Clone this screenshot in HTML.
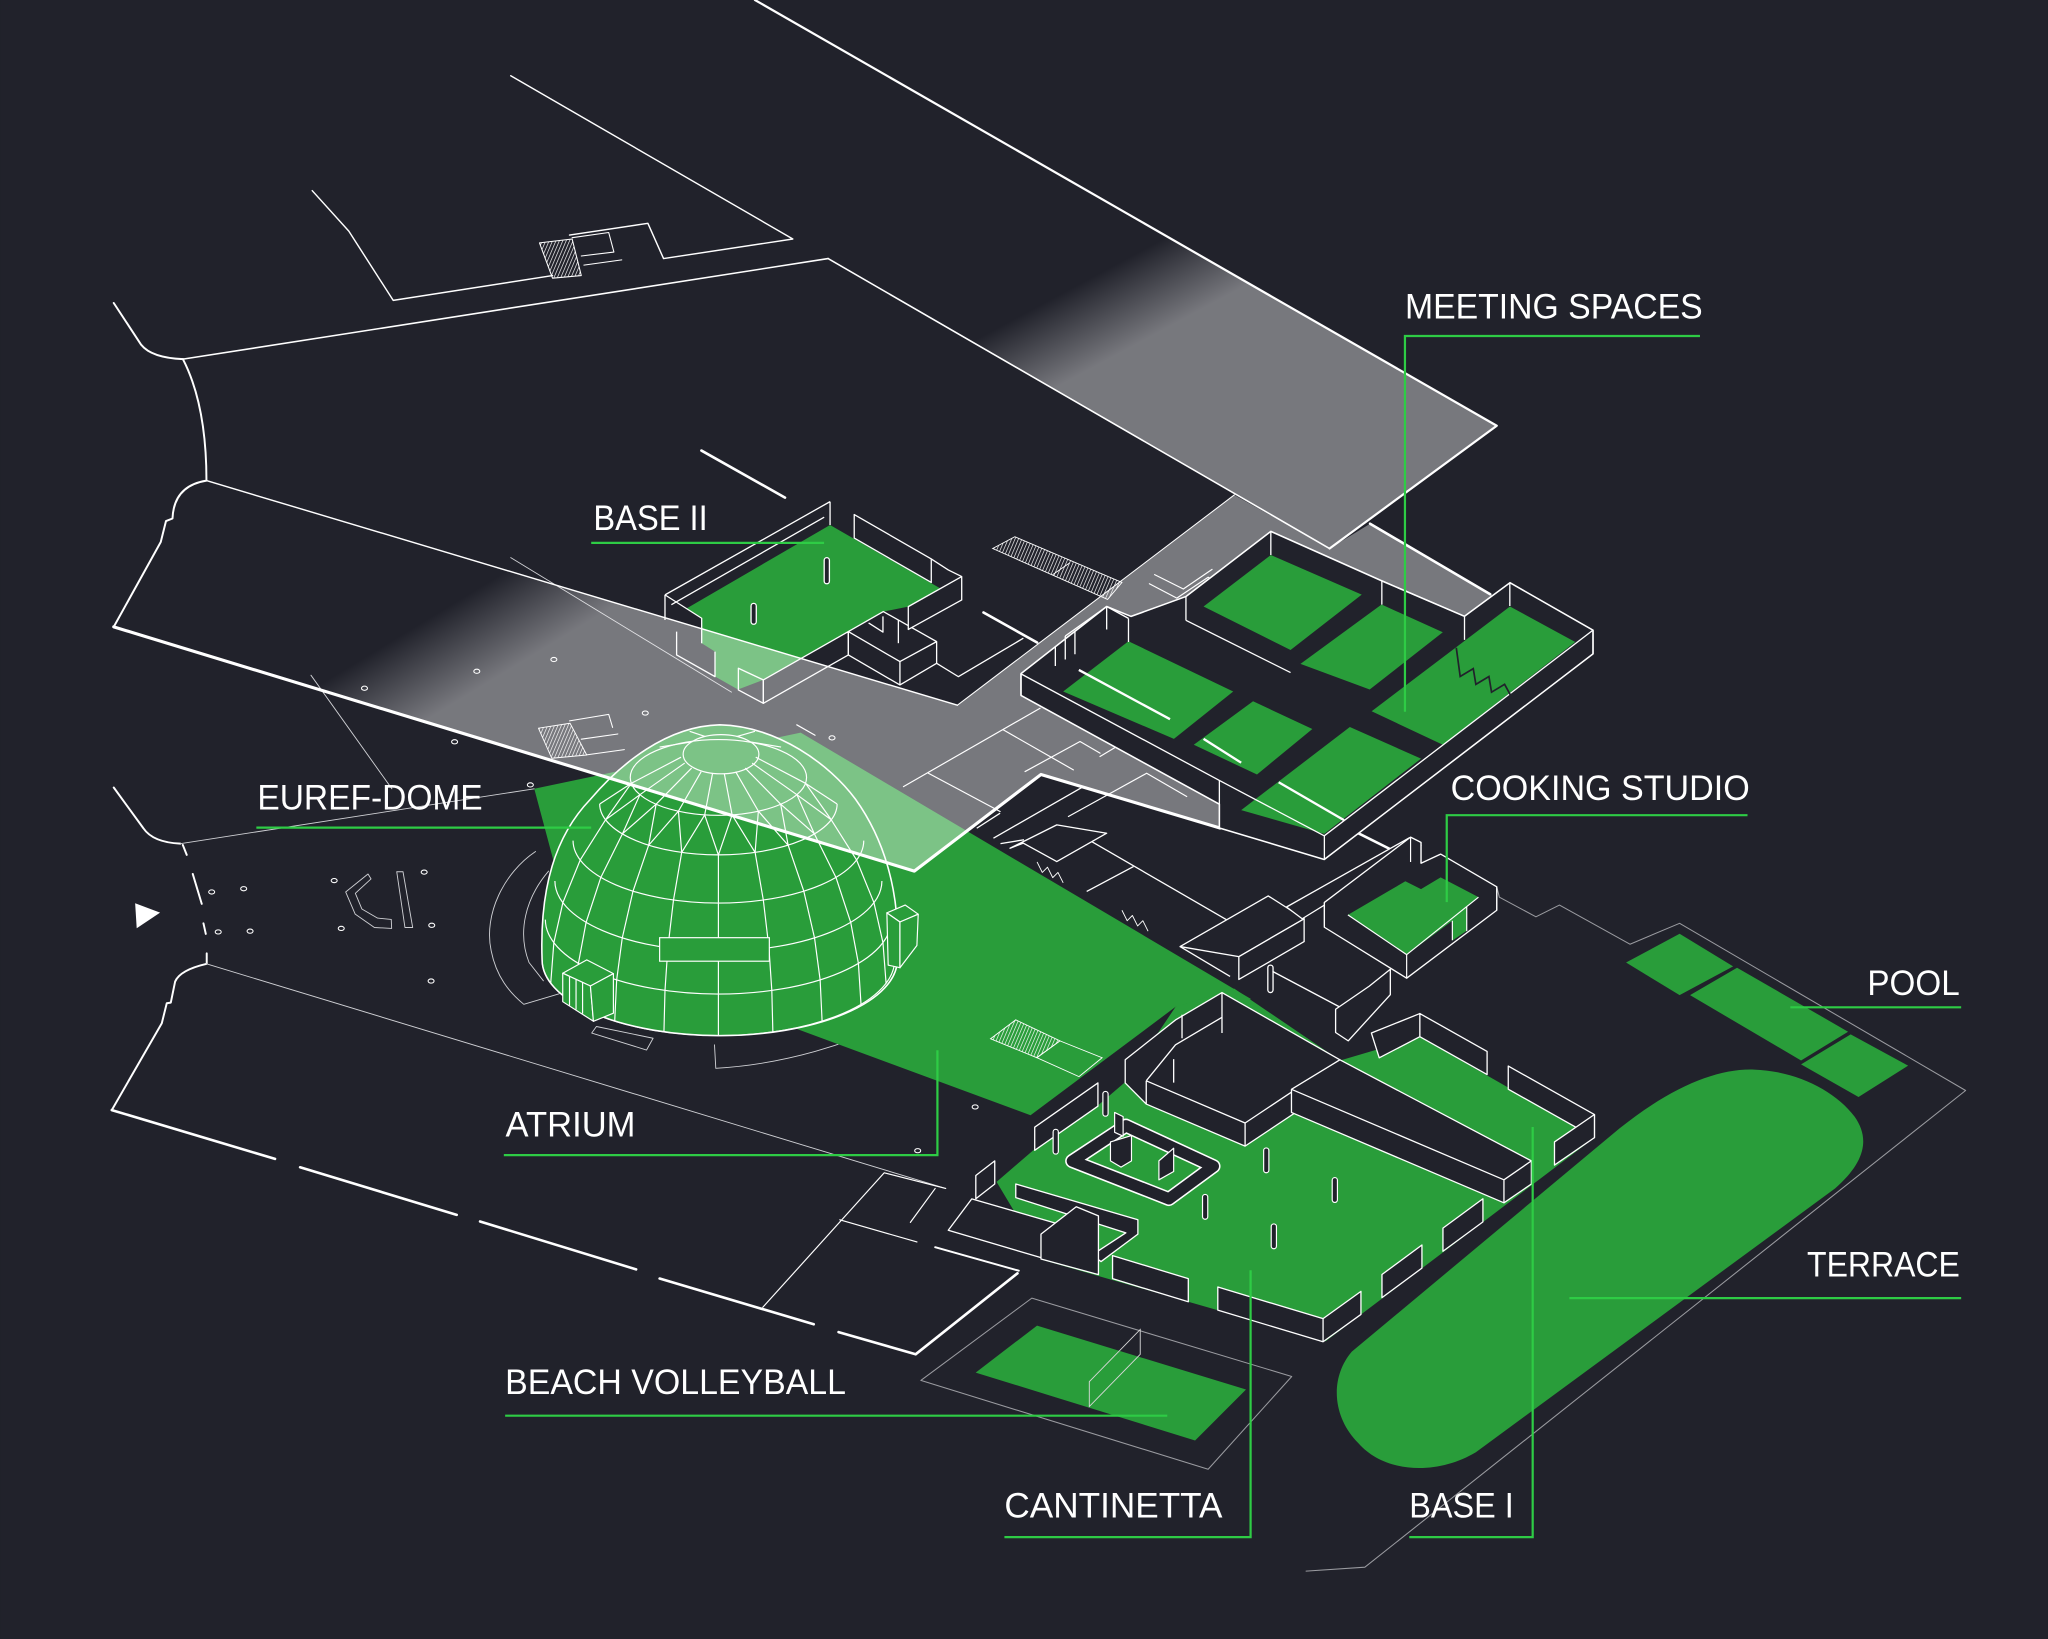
<!DOCTYPE html>
<html><head><meta charset="utf-8"><title>EUREF Campus</title>
<style>html,body{margin:0;padding:0;background:#21222b;overflow:hidden}svg{display:block}</style></head>
<body>
<svg xmlns="http://www.w3.org/2000/svg" width="2048" height="1639" viewBox="0 0 1568 1255">
<defs>
<linearGradient id="gU" gradientUnits="userSpaceOnUse" x1="885" y1="186" x2="914" y2="240">
<stop offset="0" stop-color="#fff" stop-opacity="0"/><stop offset="1" stop-color="#fff" stop-opacity="0.388"/></linearGradient>
<linearGradient id="gL" gradientUnits="userSpaceOnUse" x1="390" y1="436" x2="424" y2="492">
<stop offset="0" stop-color="#fff" stop-opacity="0"/><stop offset="1" stop-color="#fff" stop-opacity="0.388"/></linearGradient>
<pattern id="h1" width="2.4" height="10" patternUnits="userSpaceOnUse" patternTransform="rotate(23)"><line x1="0.6" y1="0" x2="0.6" y2="10" stroke="#fff" stroke-width="0.5"/></pattern>
</defs>
<rect width="1568" height="1255" fill="#21222b"/>

<!-- ground site lines -->
<g fill="none" stroke="#fff" stroke-width="1.1" stroke-linejoin="round" stroke-linecap="round">
<polyline points="239,146 267,177 301,230 423,211"/>
<polyline points="436,180 496,171 508,198 607,183 391,58"/>
<polygon points="413,186 438,183 445,211 423,213" fill="url(#h1)" stroke-width="0.8"/>
<polyline points="438,182 466,178 470,193 445,196" stroke-width="0.8"/>
<line x1="447" y1="203" x2="476" y2="199" stroke-width="0.8"/>
<path d="M87,232 L108,264 Q116,274 140,275" stroke-width="1.5"/>
<line x1="140" y1="275" x2="634" y2="198" stroke-width="1.2"/>
<path d="M140,275 Q158,310 158,368 Q133,372 132,397 L127,399 L123,415 L87,480" stroke-width="1.5"/>
<path d="M87,603 L109.7,634.2 Q117,645 138,646" stroke-width="1.5"/>
<line x1="138" y1="646" x2="409" y2="604" stroke-width="0.7" stroke="#cfd0d4"/>
<path d="M139.9,647 L142.9,654.6 M147.5,669.2 L154.4,692.1 M155.7,707 L157.5,715.1 M158.2,730 L158.2,737.6" stroke-width="1.5"/>
<path d="M158.2,738 Q137.8,742.7 134,751.6 L130.7,767.7 L127.6,768.2 L123.8,783.5 L85.5,850" stroke-width="1.5"/>
<path d="M85.5,850 L210.5,887.4 M229.7,893.8 L349.6,930.2 M367.5,935.3 L487,972 M505,979 L623,1014 M642,1020 L701,1037 L779,975" stroke-width="2"/>
<line x1="158" y1="738" x2="724" y2="910" stroke-width="0.7" stroke="#cfd0d4"/>
<polyline points="584,1001 677,898 724,910" stroke-width="0.9"/>
<line x1="643" y1="934" x2="702" y2="951" stroke-width="0.9"/>
<line x1="697" y1="936" x2="716" y2="910" stroke-width="0.9"/>
<line x1="716" y1="955" x2="780" y2="973" stroke-width="1.5"/>
<line x1="238" y1="517" x2="300" y2="604" stroke-width="0.7" stroke="#cfd0d4"/>
<line x1="391" y1="427" x2="560" y2="530" stroke-width="0.7" stroke="#cfd0d4"/>
<!-- C shapes -->
<polygon points="281.7,669.2 264.6,683 271.9,700 286.6,710.2 299.8,710.9 299.5,704 289,703 277,696 272,684 284,673" stroke-width="0.7" stroke="#cfd0d4"/>
<polygon points="303.7,667.5 308.5,667.5 315.9,710.2 310,710.2" stroke-width="0.7" stroke="#cfd0d4"/>
<!-- dome surroundings -->
<path d="M410,652 C386,668 370,700 376,728 C380,748 390,760 401,769 L428,761" stroke-width="0.7" stroke="#cfd0d4"/>
<path d="M420,667 C402,688 396,714 405,737 L416,751" stroke-width="0.7" stroke="#cfd0d4"/>
<polygon points="453,791 456.6,786 500,795 495,804" stroke-width="0.7" stroke="#cfd0d4"/>
<path d="M547,800 L548,818 C600,815 650,800 694,778 L684,773 L708,749 L699,745" stroke-width="0.7" stroke="#cfd0d4"/>
<path d="M700,667 L712,684 L720,714.6 L704,714.6" stroke-width="0.7" stroke="#cfd0d4"/>
<!-- volleyball outer / terrace outline -->
<polygon points="705,1057 790,994 989,1054 925,1125" stroke-width="0.8" stroke="#9a9ba0"/>
<polyline points="1146,679 1148,687 1176,702 1194,693 1248,723 1286,707 1505,835 1045,1200 1000,1203" stroke-width="0.8" stroke="#9a9ba0"/>
</g>
<polygon points="103.4,691.6 122.5,698.8 104.6,710.8" fill="#fff"/>
<g fill="none" stroke="#fff" stroke-width="0.8">
<ellipse cx="279" cy="527" rx="2.3" ry="1.6"/><ellipse cx="365" cy="514" rx="2.3" ry="1.6"/><ellipse cx="424" cy="505" rx="2.3" ry="1.6"/>
<ellipse cx="494" cy="546" rx="2.3" ry="1.6"/><ellipse cx="637" cy="565" rx="2.3" ry="1.6"/><ellipse cx="348" cy="568" rx="2.3" ry="1.6"/>
<ellipse cx="406" cy="601" rx="2.3" ry="1.6"/><ellipse cx="162" cy="683" rx="2.3" ry="1.6"/><ellipse cx="186.5" cy="680.5" rx="2.3" ry="1.6"/>
<ellipse cx="167" cy="713.6" rx="2.3" ry="1.6"/><ellipse cx="191.4" cy="713" rx="2.3" ry="1.6"/><ellipse cx="255.8" cy="674.3" rx="2.3" ry="1.6"/>
<ellipse cx="261.2" cy="710.9" rx="2.3" ry="1.6"/><ellipse cx="324.7" cy="667.8" rx="2.3" ry="1.6"/><ellipse cx="330.5" cy="708.5" rx="2.3" ry="1.6"/>
<ellipse cx="330" cy="751.2" rx="2.3" ry="1.6"/><ellipse cx="746.6" cy="847.6" rx="2.3" ry="1.6"/><ellipse cx="702.6" cy="881.1" rx="2.3" ry="1.6"/>
<ellipse cx="784.6" cy="818.9" rx="2.3" ry="1.6"/><ellipse cx="831" cy="783" rx="2.3" ry="1.6"/><ellipse cx="863" cy="758" rx="2.3" ry="1.6"/>
</g>

<!-- green floors -->
<g fill="#299d3a">
<polygon points="409,604 613,561 958,765 900,771 789,854 613,789 440,720"/>
<polygon points="525.7,465.8 635.5,402 719.7,450.4 695.4,464.5 676.3,468.3 649.5,483.6 584.4,520.6 565,528 547.4,518 547.4,499 537.2,492.5 537.2,473.4"/>
<polygon points="763,905 792,880 840,847 861,829 900,771 945,757 1026,812 1087,794 1206,862 1221,871 1015,1027 799,965"/>
<polygon points="747,1051 794,1015 954,1064 915,1103"/>
<polygon points="1245,737 1286,715 1327,740 1286,762"/>
<polygon points="1294,762 1330,741 1415,790 1379,812"/>
<polygon points="1379,815 1417,792 1461,816 1423,840"/>
<path d="M1035,1035 L1240,864 C1280,832 1315,818 1343,819 C1375,820 1405,835 1420,855 C1432,872 1428,890 1405,910 L1130,1112 C1100,1130 1060,1128 1040,1105 C1020,1085 1018,1055 1035,1035 Z"/>
</g>
<!-- volleyball net -->
<path d="M873,1018 L873,1037 L834,1077 L834,1058 Z" fill="none" stroke="#d8d8d8" stroke-width="0.7"/>
<!-- atrium hatch stairs -->
<polygon points="758.4,795.4 777.7,780.9 811.5,797 793.8,809.9" fill="url(#h1)" stroke="#fff" stroke-width="0.7"/>
<polygon points="811.5,797 843.8,809.9 826.1,824.4 793.8,809.9" fill="none" stroke="#fff" stroke-width="0.7"/>

<!-- dome -->
<path d="M415,735 C413,680 425,640 452,612 C475,585 510,556 551,555 C595,556 635,585 655,612 C675,640 690,680 687,735 A136,58 0 0 1 415,735 Z" fill="#299d3a" stroke="#fff" stroke-width="1.2"/>
<g fill="none" stroke="#fff" stroke-width="0.9" stroke-linejoin="round">
<path d="M415,735 A135,58 0 0 0 685,735"/>
<path d="M417.5,704.2 A132.5,57 0 0 0 682.5,704.2"/>
<path d="M424.8,674.6 A125.2,53.8 0 0 0 675.2,674.6"/>
<path d="M438.7,643.7 A111.3,47.8 0 0 0 661.3,643.7"/>
<path d="M459.1,615.6 A90.9,39 0 0 0 640.9,615.6"/>
<ellipse cx="550" cy="595.3" rx="67.5" ry="29"/>
<ellipse cx="552" cy="577.5" rx="29" ry="15"/>
<polyline points="550,654.6 550,691.5 550,728.4 550,761.2 550,793"/>
<polyline points="578.1,652.7 584.4,689.2 588.7,725.8 590.9,758.4 591.7,790.2"/>
<polyline points="521.9,652.7 515.6,689.2 511.3,725.8 509.1,758.4 508.3,790.2"/>
<polyline points="603.4,647.2 615.4,682.4 623.6,718.1 627.9,750.3 629.4,781.9"/>
<polyline points="496.6,647.2 484.6,682.4 476.4,718.1 472.1,750.3 470.6,781.9"/>
<polyline points="623.5,638.5 640,671.8 651.3,706.2 657.2,737.7 659.2,769.1"/>
<polyline points="476.5,638.5 460,671.8 448.7,706.2 442.8,737.7 440.8,769.1"/>
<polyline points="636.4,627.7 655.8,658.5 669.1,691.2 676,721.8 678.4,752.9"/>
<polyline points="463.6,627.7 444.2,658.5 430.9,691.2 424,721.8 421.6,752.9"/>
<polyline points="459.1,615.6 483.3,599.8 463.6,627.7 489.9,608.5 476.5,638.5 502.3,615.8 496.6,647.2 519.4,621.1 521.9,652.7 539.5,624 550,654.6 560.5,624 578.1,652.7 580.6,621.1 603.4,647.2 597.7,615.8 623.5,638.5 610.1,608.5 636.4,627.7 616.7,599.8 640.9,615.6"/>
<path d="M545.5,592.3 L539.5,624 M554.5,592.3 L560.5,624 M536.8,590.9 L519.4,621.1 M563.2,590.9 L580.6,621.1 M529.5,588.1 L502.3,615.8 M570.5,588.1 L597.7,615.8 M524.2,584.3 L489.9,608.5 M575.8,584.3 L610.1,608.5 M521.4,579.8 L483.3,599.8 M578.6,579.8 L616.7,599.8 M530,568 L505,572 M574,568 L598,572 M540,564 L528,560 M564,564 L578,560"/>
</g>
<rect x="505" y="718" width="84" height="18" fill="#299d3a" stroke="#fff" stroke-width="0.9"/>
<g fill="#299d3a" stroke="#fff" stroke-width="0.9" stroke-linejoin="round">
<polygon points="430.8,745.2 449.2,735 469.6,745.5 452,755"/>
<polygon points="430.8,745.2 452,755 454.3,782 430.8,767"/>
<polygon points="452,755 469.6,745.5 469.6,775.8 454.3,782"/>
<path d="M436,748 L436,770 M441,750 L441,773 M446,752 L446,776" fill="none"/>
<polygon points="679,699 693,693 703,700 689,706"/>
<polygon points="679,699 689,706 689,741 680,739"/>
<polygon points="689,706 703,700 702,724 689,741"/>
</g>

<!-- ground buildings -->
<g fill="#21222b" stroke="#fff" stroke-width="1" stroke-linejoin="round">
<!-- base II -->
<polygon points="654,394 713,428 713,446 654,412"/>
<polygon points="584.4,520.6 649.5,483.6 649.5,501.5 584.4,538.5"/>
<polygon points="649.5,483.6 676.3,468.3 717.1,491.3 717.1,507.9 689,524.5 649.5,501.5"/>
<polyline points="649.5,483.6 689,506.6 717.1,491.3" fill="none"/>
<line x1="689" y1="506.6" x2="689" y2="524.5"/>
<polyline points="665,477 676,484 676,472" fill="none"/>
<polygon points="695.4,464.5 736.3,441.5 736.3,459.4 695.4,482"/>
<polyline points="713,428 726,436.4 736.3,441.5" fill="none"/>
<line x1="687.8" y1="474.7" x2="687.8" y2="492.5"/>
<polyline points="717.1,507.9 733.7,518.1 783.5,488.7" fill="none"/>
<polygon points="565.3,511.7 584.4,520.6 584.4,538.5 565.3,528.3" fill="none"/>
<path d="M509.1,455.5 L635.5,384.1 M514,463 L631,396 M509.1,455.5 L509.1,474.7 M509.1,455.5 L537.2,473.4 L537.2,492.5 M518,483.6 L518,501.5 L547.4,518.1 L547.4,499 M635.5,384.1 L635.5,402" fill="none"/>
<rect x="631" y="427" width="4" height="20" rx="2"/>
<rect x="575" y="462" width="4" height="16" rx="2"/>
<!-- middle structures -->
<polygon points="773.3,649.5 809.1,631.6 847.3,638 809.1,659.7 783.5,645.6" fill="none"/>
<path d="M835.8,644.4 L939.2,704.3 M832,682.6 L867.8,663.5 M747.8,634.2 L765.7,622.7 M760.6,641.8 L829.5,602.3 M766,646 L784,643" fill="none"/>
<polyline points="794,660 798,668 802,664 806,672 810,668 814,676" fill="none" stroke-width="0.7"/>
<polyline points="859,697 863,705 867,701 871,709 875,705 879,713" fill="none" stroke-width="0.7"/>
<polygon points="903.5,724.8 971,686 998.5,703.5 948.5,732.5" fill="none"/>
<line x1="903.5" y1="724.8" x2="941.8" y2="747.7"/>
<polygon points="948.5,732.5 998.5,703.5 998.5,721 948.5,750"/>
<polygon points="985,694.5 1079,641.5 1088,647.5 997,703.5"/>
<rect x="970.7" y="739" width="4" height="21" rx="2"/>
<line x1="974.3" y1="743.8" x2="1029" y2="772.8"/>
<polygon points="1022.6,772.8 1048.4,755.1 1064.5,742.2 1064.5,761.6 1032.3,797 1022.6,790.6"/>
<!-- cooking studio -->
<polygon points="1014,691 1080,641 1088,645 1088,661 1103,654 1146,679 1146,697 1077,749 1014,710"/>
<!-- base I -->
<polygon points="792.2,863.1 840.6,829.2 840.6,847 792.2,880.8"/>
<polygon points="747.1,900.1 761.6,888.9 761.6,906.6 747.1,917.9"/>
<polygon points="861.5,811.5 900,781 935.6,760 1025.9,811.5 1025.9,829.2 953.3,877.6 877.6,845.4 861.5,829.2"/>
<path d="M877.6,827.6 L953.3,859.9 L1025.9,811.5 M953.3,859.9 L953.3,877.6 M877.6,827.6 L877.6,845.4 M877.6,827.6 L900,800 L935.6,779 M898.6,811 L898.6,829 M935.6,760 L935.6,791 M905,777 L905,795" fill="none"/>
<polygon points="988.8,834.1 1025.9,811.5 1172.5,888.9 1172.5,906.6 1151.5,921 988.8,851.8"/>
<path d="M988.8,834.1 L1151.5,903.4 L1172.5,888.9 M1151.5,903.4 L1151.5,921" fill="none"/>
<polygon points="1087.1,776.1 1138.6,805.1 1138.6,822.8 1087.1,793.8"/>
<polygon points="1050,791 1087.1,776.1 1087.1,793.8 1056,810"/>
<polygon points="1154.8,816.3 1220.8,853.4 1220.8,871.1 1154.8,834"/>
<polygon points="1190.2,874.4 1220.8,853.4 1220.8,871.1 1190.2,892.1"/>
<polygon points="1104.8,940.4 1135.4,917.9 1135.4,935.6 1104.8,958.1"/>
<polygon points="1058.1,975.9 1088.7,953.3 1088.7,971 1058.1,993.6"/>
<polygon points="932.4,985.5 1013,1009.7 1042,988.8 1042,1006.5 1013,1027.4 932.4,1003.2"/>
<line x1="1013" y1="1009.7" x2="1013" y2="1027.4"/>
<polygon points="851.8,961.4 909.8,979.1 909.8,996.8 851.8,979.1"/>
<!-- cantinetta -->
<polygon points="726,942 744,918 820,940 797,963"/>
<polygon points="777.7,906.6 871.2,934 871.2,945 843,966 836,961 862,944 777.7,917"/>
<polygon points="797,945 824,924 841,931 841,976 797,964"/>
</g>
<!-- ring -->
<path d="M821,889 L862,862 L929,893 L895,918 Z" fill="none" stroke="#fff" stroke-width="11" stroke-linejoin="round"/>
<path d="M821,889 L862,862 L929,893 L895,918 Z" fill="none" stroke="#21222b" stroke-width="8.6" stroke-linejoin="round"/>
<g fill="#21222b" stroke="#fff" stroke-width="0.9" stroke-linejoin="round">
<polygon points="850.2,874.4 866.3,869.5 866.3,888.9 858.3,893.7 850.2,888.9"/>
<polygon points="887.3,888.9 898.6,879.2 898.6,897 887.3,903.4"/>
<polygon points="853.4,851.8 859.9,855 859.9,870 853.4,867"/>
<rect x="967.5" y="879" width="4" height="19" rx="2"/>
<rect x="1020" y="901.7" width="4" height="19" rx="2"/>
<rect x="920.7" y="914.6" width="4" height="19" rx="2"/>
<rect x="973.3" y="937.2" width="4" height="19" rx="2"/>
<rect x="844.4" y="835.7" width="4" height="19" rx="2"/>
<rect x="806.3" y="864.7" width="4" height="19" rx="2"/>
</g>
<!-- cooking green -->
<polygon points="1032,700.5 1076,674.8 1088,680.8 1103,671.8 1132,686.9 1123,694.5 1123,712.7 1112,720.2 1112,705 1077.4,730.8" fill="#299d3a"/>
<path d="M1014,691 L1014,710 M1146,679 L1146,697 M1077,731 L1077,749 M1088,645 L1088,661 M1123,694.5 L1123,713 M1112,705 L1112,720 M1080,641 L1080,660 M1032,700.5 L1077,731 L1132,687" fill="none" stroke="#fff" stroke-width="0.9"/>
<line x1="1038" y1="637" x2="1064" y2="650" stroke="#fff" stroke-width="2"/>

<!-- dark stairs -->
<polygon points="760,420 777,411 859,446 848,459" fill="url(#h1)" stroke="#fff" stroke-width="0.7"/>
<line x1="806" y1="440" x2="819" y2="431" stroke="#fff" stroke-width="0.7"/>

<!-- translucent planes -->
<polygon points="578,0 1146,326 1018,420 634,198 291,0" fill="url(#gU)"/>
<path d="M158,368 L733,540 L945,379 L1018,420 L1049,401 L1141,455 L1220,500 L1014,658 L934,634 L797,593 L700,667 L87,480 L123,415 L127,399 L132,397 Q133,372 158,368 Z" fill="url(#gL)"/>

<!-- plane edges and lines on planes -->
<g fill="none" stroke="#fff" stroke-linejoin="round" stroke-linecap="round">
<path d="M578,0 L1146,326 L1018,420" stroke-width="1.7"/>
<line x1="634" y1="198" x2="1018" y2="420" stroke-width="1.2"/>
<line x1="158" y1="368" x2="733" y2="540" stroke-width="1.1"/>
<line x1="733" y1="540" x2="945" y2="379" stroke-width="0.8"/>
<line x1="1049" y1="401" x2="1141" y2="455" stroke-width="2"/>
<path d="M87,480 L700,667 L797,593 L934,634" stroke-width="2.4"/>
<line x1="537" y1="345" x2="601" y2="381" stroke-width="2"/>
<line x1="753" y1="469" x2="794" y2="492" stroke-width="2"/>
<path d="M691.7,602.3 L796.3,542.3 M710.8,592.1 L765.7,621.4 M768.2,558.9 L821.8,589.5 M784.8,590.8 L826.9,567.8 L842.2,576.7 M842.2,579.3 L861.4,567.8 M818,625.2 L877.9,592.1 L908.6,609.9 M610,555 L624,563" stroke-width="0.9"/>
<path d="M880,447 L901,458 M884,440 L906,451 M901,458 L925,442 M906,451 L928,436 M925,442 L936,448" stroke-width="0.9"/>
<polygon points="412.2,557.6 436.4,553.8 449.2,578.1 422.4,580.6" fill="url(#h1)" stroke-width="0.7"/>
<path d="M436,552 L466,547 L469,557 M445,566 L473,562 M449,578 L478,574" stroke-width="0.8"/>
</g>

<!-- meeting spaces building -->
<polygon points="781.7,515.8 847.3,464.4 866,472 907.9,456.8 973,406.9 1057.8,444.7 1121.3,471.9 1156.1,446.2 1219.7,482.5 1219.7,500.7 1013.9,658.1 933.6,634 933.6,615.8 781.7,532.5" fill="#21222b" stroke="#fff" stroke-width="1.2" stroke-linejoin="round"/>
<g fill="#299d3a">
<polygon points="921.5,464.4 973,425 1042.6,455.3 988.1,497.7"/>
<polygon points="995.7,508.3 1057.8,462.9 1104.7,484.1 1048.7,528"/>
<polygon points="1050.2,544.6 1156.1,464.4 1206.1,491.6 1104.7,570.3"/>
<polygon points="814,529.5 864,491 944.2,529.5 898.8,565.8"/>
<polygon points="914,570.3 959.4,537 1004.8,558.2 962.4,593"/>
<polygon points="950.3,620.3 1033.5,556.7 1088,580.9 1013.9,638.5"/>
</g>
<g fill="none" stroke="#fff" stroke-width="1" stroke-linejoin="round">
<path d="M973,407 L973,425 M1058,445 L1058,463 M1156,446 L1156,464 M1014,640 L1014,658 M908,457 L908,475 M781.7,516 L781.7,532.5 M933.6,597.6 L933.6,615.8 M1219.7,482.5 L1219.7,500.7 M815.6,487 L815.6,505 M847.3,464.4 L847.3,482 M864,473.5 L864,491.6 M823,483 L823,501 M808,495 L808,510"/>
<path d="M1219.7,482.5 L1013.9,640 M781.7,516 L933.6,597.6 L1013.9,640 M908,475 L988.1,515 M1121.3,471.9 L1121.3,490 M1057.8,444.7 L1121.3,471.9 M815.6,487 L847.3,464.4 L864,473.5"/>
<path d="M826,513 L895.8,550.7 M921.5,565.8 L950.3,584 M979,599 L1029,628" stroke-width="1.8"/>
</g>
<polyline points="1115,496 1118,518 1128,512 1130,524 1140,518 1142,530 1152,524 1158,535" fill="none" stroke="#21222b" stroke-width="1.3"/>

<!-- leaders -->
<g fill="none" stroke="#2ecc45" stroke-width="1.7">
<path d="M1075.7,545 L1075.7,257.3 L1301.6,257.3"/>
<path d="M452.6,415.7 L630.9,415.7"/>
<path d="M196.2,633.7 L452.6,633.7"/>
<path d="M1107.7,690.8 L1107.7,624.2 L1338,624.2"/>
<path d="M1370.8,771.3 L1501.6,771.3"/>
<path d="M1201.6,994 L1501.6,994"/>
<path d="M385.7,884.5 L717.7,884.5 L717.7,804.2"/>
<path d="M386.7,1084 L893.7,1084"/>
<path d="M769,1177 L957.5,1177 L957.5,972.6"/>
<path d="M1079,1177 L1173.5,1177 L1173.5,863"/>
</g>

<!-- labels -->
<g font-family="'Liberation Sans', Arial, sans-serif" font-size="26.8" fill="#fff">
<text x="1075.7" y="243.7" textLength="228" lengthAdjust="spacingAndGlyphs">MEETING SPACES</text>
<text x="454.3" y="406" textLength="87.5" lengthAdjust="spacingAndGlyphs">BASE II</text>
<text x="197" y="620" textLength="172.5" lengthAdjust="spacingAndGlyphs">EUREF-DOME</text>
<text x="1110.7" y="612.7" textLength="229" lengthAdjust="spacingAndGlyphs">COOKING STUDIO</text>
<text x="1429.8" y="762" textLength="70.7" lengthAdjust="spacingAndGlyphs">POOL</text>
<text x="1383.6" y="977.3" textLength="117" lengthAdjust="spacingAndGlyphs">TERRACE</text>
<text x="387" y="870.4" textLength="99.5" lengthAdjust="spacingAndGlyphs">ATRIUM</text>
<text x="386.7" y="1067.4" textLength="261" lengthAdjust="spacingAndGlyphs">BEACH VOLLEYBALL</text>
<text x="769" y="1162" textLength="167" lengthAdjust="spacingAndGlyphs">CANTINETTA</text>
<text x="1079" y="1162" textLength="80" lengthAdjust="spacingAndGlyphs">BASE I</text>
</g>
</svg>
</body></html>
